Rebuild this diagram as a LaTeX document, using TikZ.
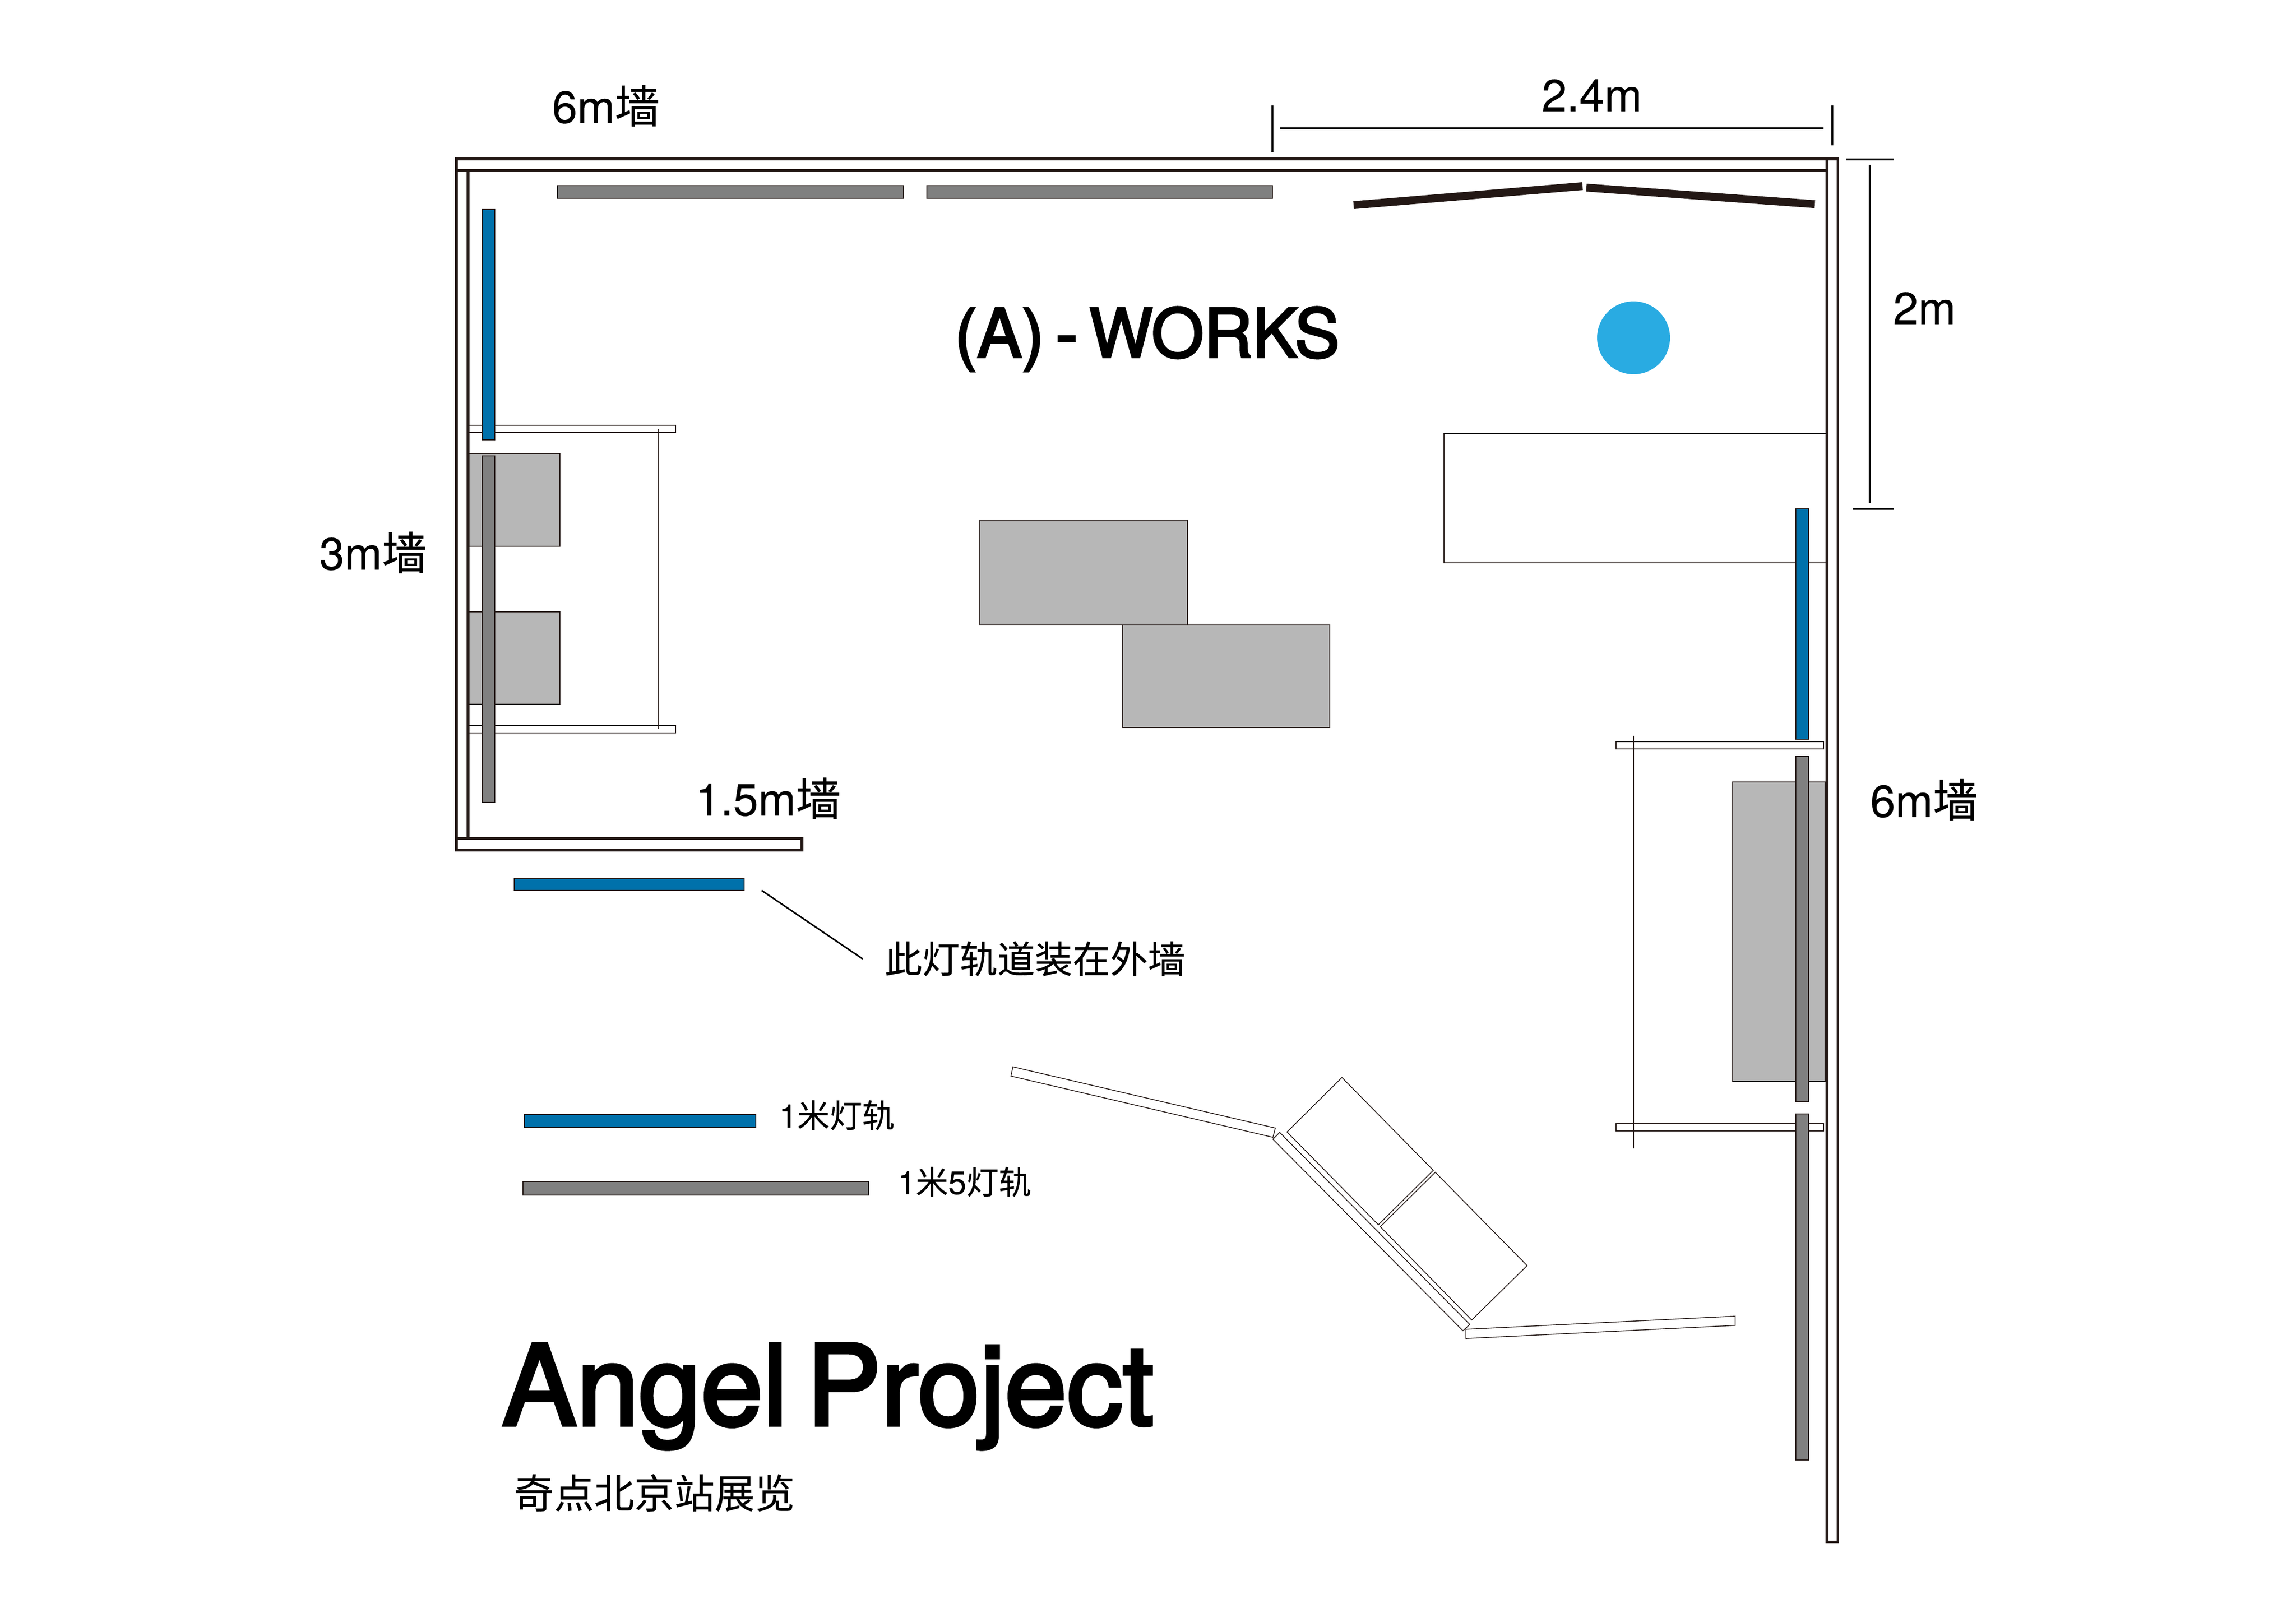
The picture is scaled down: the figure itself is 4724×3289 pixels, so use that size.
\documentclass[tikz,border=0pt]{standalone}
\usepackage{fontspec}
\setmainfont{TeX Gyre Heros}[FakeBold=0.25]
\newfontfamily\cjk{Noto Sans CJK SC}[FakeBold=0.25]
\newfontfamily\titlefont{TeX Gyre Heros}[FakeBold=3]
\definecolor{ink}{HTML}{231815}
\definecolor{railblue}{HTML}{0071AB}
\definecolor{railgray}{HTML}{808080}
\definecolor{blockgray}{HTML}{B7B7B7}
\definecolor{dotblue}{HTML}{29ABE2}
\tikzset{
  x=0.01cm,y=-0.01cm,
  wall/.style={draw=ink,fill=white,line width=1.45pt},
  bluerail/.style={draw=ink,fill=railblue,line width=0.55pt},
  grayrail/.style={draw=ink,fill=railgray,line width=0.55pt},
  block/.style={draw=ink,fill=blockgray,line width=0.55pt},
  shelf/.style={draw=ink,fill=white,line width=0.7pt},
  thin/.style={draw=ink,line width=0.45pt},
  dim/.style={draw=black,line width=1.1pt},
  panel/.style={draw=ink,line width=4.6pt},
  lab/.style={inner sep=0pt,outer sep=0pt,anchor=base west,text=black},
  dimtext/.style={lab,font=\fontsize{26.4}{30}\selectfont},
  smalltext/.style={lab,font=\fontsize{19}{22}\selectfont},
}
\begin{document}
\begin{tikzpicture}
\useasboundingbox[fill=white] (0,0) rectangle (4724,3289);
% angled walls and panels
\draw[thin,fill=white] (2084,2195) -- (2624,2321) -- (2619,2340) -- (2080,2214) -- cycle;
\draw[thin,fill=white] (2633,2330) -- (3024,2725) -- (3010,2738) -- (2619,2344) -- cycle;
\draw[thin,fill=white] (2648,2329) -- (2761,2217) -- (2949,2408) -- (2836,2520) -- cycle;
\draw[thin,fill=white] (2953,2412) -- (3142,2604) -- (3028,2716) -- (2840,2524) -- cycle;
\draw[thin,fill=white] (3016,2735) -- (3570,2708) -- (3570,2727) -- (3016,2754) -- cycle;
% right-hand rectangle
\draw[thin] (3757,892) -- (2971,892) -- (2971,1158) -- (3757,1158);
% blocks
\draw[block] (965,933) rectangle (1152,1124);
\draw[block] (965,1259) rectangle (1152,1449);
\draw[block] (2016,1070) rectangle (2443,1286);
\draw[block] (2310,1286) rectangle (2736,1497);
\draw[block] (3565,1609) rectangle (3755,2225);
% shelves
\draw[shelf] (963,875) rectangle (1390,890);
\draw[shelf] (963,1493) rectangle (1390,1508);
\draw[shelf] (3325,1526) rectangle (3752,1541);
\draw[shelf] (3325,2312) rectangle (3752,2327);
\draw[thin] (1354,883) -- (1354,1500);
\draw[thin,line width=0.6pt] (3361,1514) -- (3361,2363);
% walls
\draw[wall] (939,351) rectangle (963,1725);
\draw[wall] (939,327) rectangle (3758,351);
\draw[wall] (939,1725) rectangle (1650,1749);
\draw[wall] (3758,327) rectangle (3781,3172);
% rails
\draw[grayrail] (1147,382) rectangle (1859,408);
\draw[grayrail] (1907,382) rectangle (2618,408);
\draw[bluerail] (992,431) rectangle (1018,905);
\draw[grayrail] (992,938) rectangle (1018,1651);
\draw[bluerail] (1058,1808) rectangle (1531,1832);
\draw[bluerail] (3695,1047) rectangle (3721,1521);
\draw[grayrail] (3695,1556) rectangle (3721,2267);
\draw[grayrail] (3695,2292) rectangle (3721,3004);
\draw[bluerail] (1079,2293) rectangle (1555,2320);
\draw[grayrail] (1076,2431) rectangle (1787,2459);
% V panels
\draw[panel] (2785,422) -- (3256,383);
\draw[panel] (3264,386) -- (3734,420);
% round post
\fill[dotblue] (3361,695) circle (75);
% dimension lines
\coordinate (dl1) at (2618,217); \coordinate (dl2) at (2618,313);
\coordinate (dr1) at (3770,217); \coordinate (dr2) at (3770,299);
\coordinate (da) at (2634,264); \coordinate (db) at (3752,264);
\draw[dim,line width=0.9pt] (dl1) -- (dl2);
\draw[dim,line width=0.9pt] (dr1) -- (dr2);
\draw[dim] (da) -- (db);
\coordinate (vt1) at (3799,328); \coordinate (vt2) at (3896,328);
\coordinate (vb1) at (3812,1047); \coordinate (vb2) at (3896,1047);
\coordinate (va) at (3847,339); \coordinate (vb) at (3847,1035);
\draw[dim] (vt1) -- (vt2);
\draw[dim] (vb1) -- (vb2);
\draw[dim] (va) -- (vb);
% leader
\coordinate (leadA) at (1567,1832);
\coordinate (leadB) at (1775,1973);
\draw[dim,line width=0.9pt] (leadA) -- (leadB);
% labels
\node[dimtext] (t6a) at (1136,253) {6m{\cjk 墙}};
\node[dimtext] (t3) at (657,1172) {3m{\cjk 墙}};
\node[dimtext] (t15) at (1431,1678) {1.5m{\cjk 墙}};
\node[dimtext] (t6b) at (3848,1681) {6m{\cjk 墙}};
\node[dimtext] (t24) at (3172,229) {2.4m};
\node[dimtext] (t2) at (3895,667) {2m};
\node[lab,font=\fontsize{39.4}{44}\titlefont] (works) at (1964,735) {(A)\,-\,WORKS};
\node[lab,font=\fontsize{22}{26}\cjk] (note) at (1820,2002) {此灯轨道装在外墙};
\node[smalltext] (leg1) at (1603,2320) {1{\cjk 米灯轨}};
\node[smalltext] (leg2) at (1847,2457) {1{\cjk 米}5{\cjk 灯轨}};
\node[lab,font=\fontsize{65.4}{72}\titlefont] (title) at (1033,2932) {Angel\,Project};
\node[lab,font=\fontsize{23.5}{28}\cjk] (sub) at (1057,3103) {奇点北京站展览};
\end{tikzpicture}
\end{document}
